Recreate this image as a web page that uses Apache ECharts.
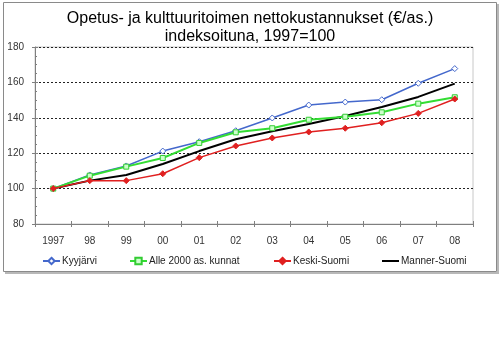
<!DOCTYPE html>
<html>
<head>
<meta charset="utf-8">
<script src="https://cdn.jsdelivr.net/npm/echarts@6/dist/echarts.min.js"></script>
<style>
  html, body { margin: 0; padding: 0; background: #fff; }
  #chart { width: 500px; height: 338px; }
</style>
</head>
<body>
<div id="chart"></div>
<script>
// Index of net education & culture costs per inhabitant, 1997 = 100
const years = ['1997', '98', '99', '00', '01', '02', '03', '04', '05', '06', '07', '08'];
const kyyjarvi = [100, 107.7, 112.8, 121.2, 126.5, 132.7, 139.9, 147.2, 148.9, 150.2, 159.5, 167.8];
const alle2000 = [100, 107.3, 112.4, 117.3, 125.8, 131.8, 134.1, 138.9, 140.6, 143.1, 148.0, 151.6];
const keskiSuomi = [100, 104.5, 104.5, 108.4, 117.5, 124.1, 128.6, 132.0, 134.1, 137.2, 142.5, 150.6];
const mannerSuomi = [100, 104.5, 107.7, 113.9, 121.2, 127.9, 132.4, 136.5, 141.0, 146.1, 151.8, 159.3];
const seriesNames = ['Kyyjärvi', 'Alle 2000 as. kunnat', 'Keski-Suomi', 'Manner-Suomi'];
const yTicks = { min: 80, max: 180, step: 20 };

const FONT = 'Liberation Sans, Arial, sans-serif';
const chart = echarts.init(document.getElementById('chart'), null, { renderer: 'canvas' });

const axisGrey = '#7f7f7f';
const labelStyle = { color: '#333', fontFamily: FONT, fontSize: 10 };

const legendAt = (item, left, extra) => Object.assign({
  data: [item], left: left, top: 256, itemWidth: 17, itemHeight: 8, itemGap: 2,
  textStyle: { color: '#222', fontFamily: FONT, fontSize: 10, padding: [0, 0, 0, -3] },
  padding: 0
}, extra || {});

chart.setOption({
  animation: false,
  backgroundColor: '#fff',
  title: {
    text: 'Opetus- ja kulttuuritoimen nettokustannukset (€/as.)\nindeksoituna, 1997=100',
    left: 'center', top: 5,
    textStyle: { fontFamily: FONT, fontSize: 16, fontWeight: 'normal', color: '#000', lineHeight: 18 }
  },
  graphic: [
    { type: 'rect', shape: { x: 497, y: 4, width: 2, height: 270 }, style: { fill: '#b8b8b8' }, silent: true },
    { type: 'rect', shape: { x: 5, y: 272, width: 494, height: 2 }, style: { fill: '#b8b8b8' }, silent: true },
    { type: 'rect', shape: { x: 3.5, y: 2.5, width: 493, height: 269 }, style: { fill: null, stroke: '#8a8a8a', lineWidth: 1 }, silent: true }
  ],
  legend: [
    legendAt(seriesNames[0], 42),
    legendAt(seriesNames[1], 129),
    legendAt(seriesNames[2], 273),
    legendAt({ name: seriesNames[3], icon: 'rect' }, 382, { itemHeight: 2 })
  ],
  grid: {
    left: 35, top: 47, right: 27, bottom: 114,
    show: true, borderColor: '#c8c8c8', borderWidth: 1, backgroundColor: '#fff'
  },
  xAxis: [
    {
      type: 'category', data: years, boundaryGap: true, position: 'bottom',
      axisLine: { lineStyle: { color: axisGrey } },
      axisTick: { show: true, length: 3, lineStyle: { color: axisGrey } },
      axisLabel: Object.assign({ margin: 12 }, labelStyle),
      splitLine: { show: false }
    },
    {
      type: 'category', data: years, boundaryGap: true, position: 'bottom',
      axisLine: { show: false },
      axisTick: { show: true, inside: true, length: 3, lineStyle: { color: axisGrey } },
      axisLabel: { show: false },
      splitLine: { show: false }
    }
  ],
  yAxis: [
    {
      type: 'value', min: yTicks.min, max: yTicks.max, interval: yTicks.step, position: 'left',
      axisLine: { show: true, lineStyle: { color: axisGrey } },
      axisTick: { show: true, length: 3, lineStyle: { color: axisGrey } },
      axisLabel: Object.assign({ margin: 11 }, labelStyle),
      splitLine: { show: true, lineStyle: { color: '#222', type: [2, 2], width: 1 } }
    },
    {
      type: 'value', min: yTicks.min, max: yTicks.max, interval: yTicks.step, position: 'left',
      axisLine: { show: false },
      axisTick: { show: true, inside: true, length: 3, lineStyle: { color: axisGrey } },
      minorTick: { show: true, splitNumber: 4, length: 2, lineStyle: { color: axisGrey } },
      axisLabel: { show: false },
      splitLine: { show: false }
    }
  ],
  series: [
    {
      name: seriesNames[3], type: 'line', data: mannerSuomi, z: 2,
      symbol: 'none', showSymbol: false,
      lineStyle: { color: '#000', width: 2 },
      itemStyle: { color: '#000' }
    },
    {
      name: seriesNames[0], type: 'line', data: kyyjarvi, z: 3,
      symbol: 'diamond', symbolSize: 6,
      lineStyle: { color: '#4468cc', width: 1.5 },
      itemStyle: { color: '#fff', borderColor: '#4468cc', borderWidth: 1 }
    },
    {
      name: seriesNames[1], type: 'line', data: alle2000, z: 4,
      symbol: 'rect', symbolSize: 5,
      lineStyle: { color: '#33dd33', width: 2 },
      itemStyle: { color: '#ccffcc', borderColor: '#33cc33', borderWidth: 1 }
    },
    {
      name: seriesNames[2], type: 'line', data: keskiSuomi, z: 5,
      symbol: 'diamond', symbolSize: 6,
      lineStyle: { color: '#e02020', width: 1.5 },
      itemStyle: { color: '#e02020', borderColor: '#e02020', borderWidth: 1 }
    }
  ]
});
</script>
</body>
</html>
